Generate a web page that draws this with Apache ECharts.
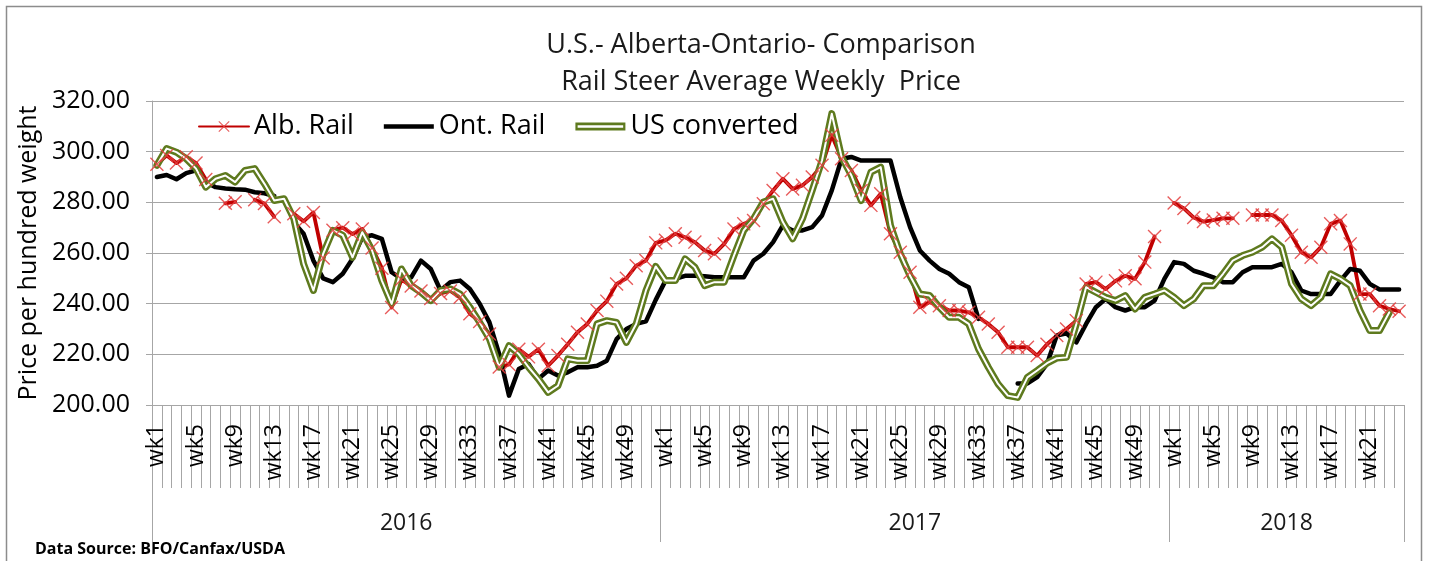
<!DOCTYPE html>
<html>
<head>
<meta charset="utf-8">
<title>Rail Steer Average Weekly Price</title>
<script src="https://cdn.jsdelivr.net/npm/echarts@6.0.0/dist/echarts.min.js"></script>
<style>
  html, body { margin: 0; padding: 0; background: #fff; }
  #chart { width: 1433px; height: 561px; }
</style>
</head>
<body>
<div id="chart"></div>
<script>
// years on the lower axis level and how many weeks each one has
var years = ['2016', '2017', '2018'];
var weeksInYear = [52, 52, 24];

// price per hundred weight, one value per week (null = no quote)
var albRail = [
  295, 298.5, 295.5, 298, 295.5, 289, null, 279.6, 280.2, null, 281, 279.5, 274.3,
  null, 275.5, 272.5, 276, 258, 269, 270, 267.5, 269.5, 262, 254, 238.5, 249.5,
  247, 245, 242, 244, 245, 242.5, 236, 233, 228, 215, 216, 222, 219,
  222, 215.5, 219.5, 224, 228.7, 232, 237.3, 241, 247.8, 250, 255, 257, 264,
  // 2017
  265, 267.6, 266.2, 264.3, 261, 259.7, 263.6, 269.5, 271.5, 272.8, 279.4, 284.7, 289.3,
  285.3, 286.7, 290, 294.6, 306.5, 297.2, 292.6, 284.7, 278.8, 283.4, 267.6, 260.3, 252.4,
  238.6, 240.6, 239.2, 237.3, 237.3, 236.6, 234.6, 232, 228.7, 222.8, 222.8, 222.8, 219.5,
  224, 227.4, 230, 233.3, 247.8, 248.5, 245.8, 249, 251, 249.8, 256.4, 266.5, null,
  // 2018
  279.7, 277.6, 274, 272.4, 273, 273.7, 273.7, null, 275, 275, 275, 272.8,
  267, 260.3, 258.3, 262.3, 271.5, 272.8, 263.6, 243.8, 243.8, 239.2, 237.9, 237
];

var ontRail = [
  290, 290.8, 289.1, 291.5, 292.6, 288, 286, 285.5, 285.2, 285, 284, 283.6, 282.5,
  null, 272, 267.6, 257, 250, 248.5, 251.8, 257.7, 266.2, 267, 265.6, 252.4, 249.8,
  250.4, 257, 253.7, 245.2, 248.5, 249.1, 245.8, 240, 232.6, 220.1, 203.7, 214.2, 216.2,
  210.3, 213.6, 211.6, 212.9, 214.9, 214.9, 215.5, 217.5, 226, 230, 232, 233, 241.5,
  // 2017
  249.1, 249.8, 251, 251, 250.8, 250.4, 250.4, 250.4, 250.4, 257, 259.7, 264.3, 270.9,
  268.9, 268.9, 270.2, 274.8, 284.7, 297.2, 297.9, 296.5, 296.5, 296.5, 296.5, 282, 270.2,
  261, 257, 253.7, 251.8, 248.5, 246.5, 234, null, null, null, 208.5, 208.5, 211,
  216.2, 227.4, 228.3, 224.7, 232, 238.6, 241.9, 238.6, 237.3, 238.6, 238.6, 241.2, 249.8,
  // 2018
  256.4, 255.7, 253, 251.8, 250.4, 248.5, 248.5, 252.4, 254.4, 254.4, 254.4, 255.7,
  252.4, 245.2, 243.8, 243.8, 243.8, 249.1, 253.7, 253, 247.8, 245.6, 245.6, 245.6
];

var usConverted = [
  294.6, 301.2, 299.8, 297.2, 293.3, 286, 289.3, 290.6, 288, 292.6, 293.3, 287.3, 280.7,
  281.4, 273.5, 255.7, 245.2, 259.7, 268.9, 267, 258.3, 268.2, 261, 249.1, 239.9, 253.7,
  247.1, 244.5, 241.2, 245.2, 245.8, 243.8, 238.6, 232.6, 226.1, 214.9, 223.4, 220.1, 214.9,
  210.3, 205, 207.6, 218.2, 217.5, 217.5, 232, 233.3, 232.6, 224.7, 232, 245.2, 254.7,
  // 2017
  249.1, 249.1, 257.7, 254.4, 247.1, 248.5, 248.5, 259, 268.9, 273.5, 280.1, 281.4, 272.2,
  265.6, 273.5, 284.7, 296.5, 315, 297.9, 290.6, 280.7, 291.9, 293.9, 270.9, 259.7, 251,
  243.8, 243.2, 238.6, 234.6, 234.6, 232, 222.1, 214.9, 208.3, 203.7, 203, 210.9, 213.6,
  216.5, 218.5, 218.8, 232, 246.5, 244.5, 242.5, 241.2, 243.2, 237.9, 242.5, 243.8, 245.2,
  // 2018
  242.5, 239.2, 241.9, 247.1, 247.1, 251.8, 257, 259, 260.3, 262.3, 265.6, 262.3,
  247.8, 241.9, 239.2, 242.5, 251.8, 249.8, 247.1, 237.3, 229.4, 229.4, 236.6, null
];

var FONT = '"Open Sans", "DejaVu Sans", sans-serif';

// week labels (wk1, wk2 ...) and the year row underneath
var weekLabels = [];
var yearRow = [];
for (var y = 0; y < years.length; y++) {
  var mid = Math.floor(weeksInYear[y] / 2) + 1;
  for (var w = 1; w <= weeksInYear[y]; w++) {
    weekLabels.push('wk' + w);
    yearRow.push(w === mid ? years[y] : '');
  }
}

var crossMark = 'path://M0,0.7 L0.7,0 L5,4.3 L9.3,0 L10,0.7 L5.7,5 L10,9.3 L9.3,10 L5,5.7 L0.7,10 L0,9.3 L4.3,5 Z';
var thickLineIcon = 'path://M0,0 L50,0 L50,4.5 L0,4.5 Z';
var doubleLineIcon = 'path://M0,0 L56,0 L56,9 L0,9 Z M2.5,3 L2.5,6 L53.5,6 L53.5,3 Z';

var chart = echarts.init(document.getElementById('chart'));
var option = {
  animation: false,
  textStyle: { fontFamily: FONT },
  grid: { left: 152, right: 29, top: 101, bottom: 156, containLabel: false },
  legend: {
    data: [
      { name: 'Alb. Rail' },
      { name: 'Ont. Rail', icon: thickLineIcon },
      { name: 'US converted', icon: doubleLineIcon }
    ],
    left: 193,
    top: 108,
    itemWidth: 50,
    itemHeight: 14,
    itemGap: 30,
    textStyle: { fontSize: 27, color: '#000', fontFamily: FONT }
  },
  xAxis: [{
    type: 'category',
    data: weekLabels,
    position: 'bottom',
    axisLine: { show: true, lineStyle: { color: '#a6a6a6', width: 1 } },
    axisTick: { show: true, interval: 0, length: 83, lineStyle: { color: '#a6a6a6', width: 1 } },
    axisLabel: {
      interval: function (idx, val) { return (parseInt(val.slice(2), 10) - 1) % 4 === 0; },
      rotate: 90,
      margin: 19,
      fontSize: 23,
      color: '#000',
      fontFamily: FONT
    },
    splitLine: { show: false }
  }, {
    type: 'category',
    data: yearRow,
    position: 'bottom',
    axisLine: { show: false },
    axisTick: {
      show: true,
      interval: function (idx) { return weekLabels[idx] === 'wk1'; },
      length: 137,
      lineStyle: { color: '#a6a6a6', width: 1 }
    },
    axisLabel: {
      interval: function (idx, val) { return val !== ''; },
      margin: 107,
      fontSize: 23,
      color: '#1a1a1a',
      padding: [0, 10, 0, 0],
      fontFamily: FONT
    },
    splitLine: { show: false }
  }],
  yAxis: {
    type: 'value',
    min: 200,
    max: 320,
    interval: 20,
    name: 'Price per hundred weight',
    nameLocation: 'middle',
    nameGap: 104,
    nameTextStyle: { fontSize: 25, color: '#000', fontFamily: FONT },
    axisLine: { show: true, lineStyle: { color: '#a6a6a6' } },
    axisTick: { show: true, length: 6, lineStyle: { color: '#a6a6a6' } },
    axisLabel: {
      formatter: function (v) { return v.toFixed(2); },
      margin: 22,
      fontSize: 25,
      color: '#000',
      fontFamily: FONT
    },
    splitLine: { lineStyle: { color: '#a6a6a6', width: 1 } }
  },
  series: [{
    name: 'Alb. Rail',
    type: 'line',
    data: albRail,
    symbol: crossMark,
    symbolSize: 14,
    showAllSymbol: true,
    lineStyle: { color: '#c00000', width: 3.8, join: 'round', cap: 'round' },
    itemStyle: { color: 'rgba(228,62,62,0.85)' }
  }, {
    name: 'Ont. Rail',
    type: 'line',
    data: ontRail,
    symbol: 'none',
    lineStyle: { color: '#000', width: 4.5, join: 'round', cap: 'round' },
    itemStyle: { color: '#000' }
  }, {
    name: 'US converted',
    type: 'line',
    data: usConverted,
    symbol: 'none',
    lineStyle: { color: '#5e7a1e', width: 7, join: 'round', cap: 'round' },
    itemStyle: { color: '#5e7a1e' }
  }, {
    name: 'US inner',
    type: 'line',
    data: usConverted,
    symbol: 'none',
    silent: true,
    lineStyle: { color: '#fff', width: 2, join: 'round', cap: 'round' },
    itemStyle: { color: '#fff' }
  }],
  graphic: [{
    type: 'rect',
    silent: true,
    shape: { x: 6.5, y: 6.5, width: 1415, height: 620 },
    style: { fill: 'none', stroke: '#8c8c8c', lineWidth: 1.5 }
  }, {
    type: 'text',
    x: 761, y: 45,
    style: {
      text: 'U.S.- Alberta-Ontario- Comparison',
      font: '27px ' + FONT, fill: '#1a1a1a',
      align: 'center', verticalAlign: 'middle'
    }
  }, {
    type: 'text',
    x: 761, y: 82,
    style: {
      text: 'Rail Steer Average Weekly  Price',
      font: '27px ' + FONT, fill: '#1a1a1a',
      align: 'center', verticalAlign: 'middle'
    }
  }, {
    type: 'text',
    x: 35, y: 549,
    style: {
      text: 'Data Source: BFO/Canfax/USDA',
      font: 'bold 16px ' + FONT, fill: '#000',
      align: 'left', verticalAlign: 'middle'
    }
  }]
};
chart.setOption(option);
</script>
</body>
</html>
